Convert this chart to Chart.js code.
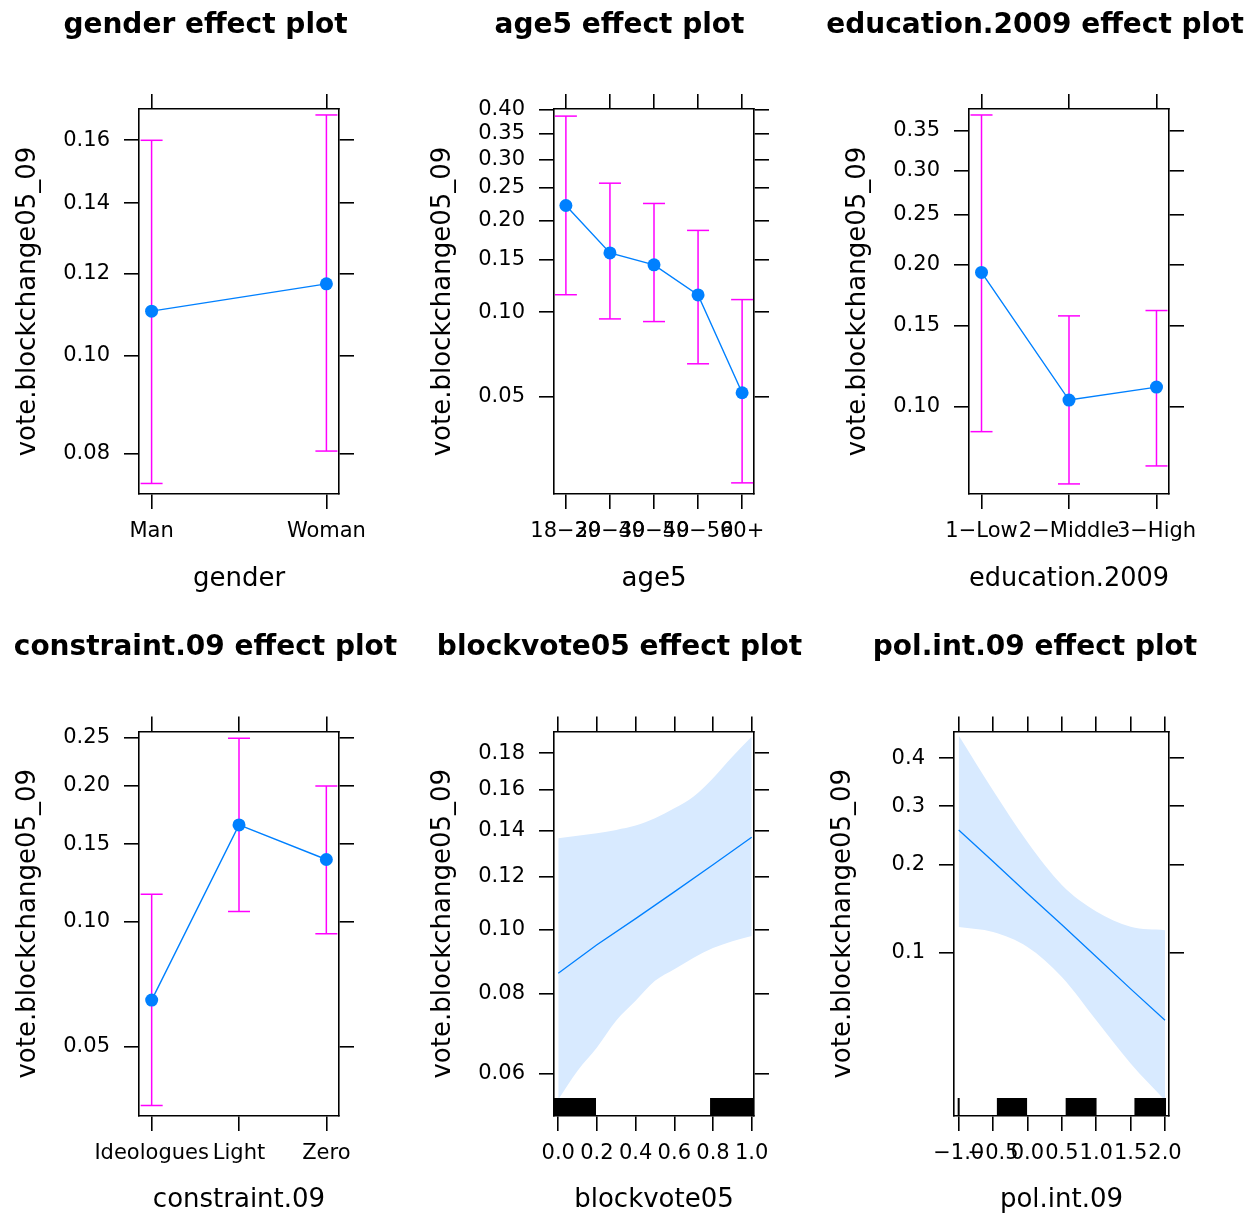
<!DOCTYPE html>
<html>
<head>
<meta charset="utf-8">
<title>Effect plots</title>
<script src="https://cdn.jsdelivr.net/npm/chart.js@4.4.1/dist/chart.umd.min.js"></script>
<style>
  body { margin: 0; background: #fff; }
  #page { position: relative; width: 1259px; height: 1218px; overflow: hidden; background: #fff; }
  #page canvas { position: absolute; }
</style>
</head>
<body>
<div id="page"></div>
<script>
// --- data (probabilities) ---
const genderLevels = ["Man", "Woman"];
const genderFit = [0.1105, 0.1174];
const genderLower = [0.0747, 0.0805];
const genderUpper = [0.1600, 0.1687];
const genderYTicks = [0.08, 0.10, 0.12, 0.14, 0.16];

const age5Levels = ["18−29", "30−39", "40−49", "50−59", "60+"];
const age5Fit = [0.222, 0.158, 0.1445, 0.1146, 0.0517];
const age5Lower = [0.1148, 0.0948, 0.0928, 0.0658, 0.0240];
const age5Upper = [0.386, 0.2579, 0.2251, 0.1863, 0.1105];
const age5YTicks = [0.05, 0.10, 0.15, 0.20, 0.25, 0.30, 0.35, 0.40];

const eduLevels = ["1−Low", "2−Middle", "3−High"];
const eduFit = [0.1933, 0.1036, 0.1107];
const eduLower = [0.0880, 0.0668, 0.0735];
const eduUpper = [0.3707, 0.1575, 0.1616];
const eduYTicks = [0.10, 0.15, 0.20, 0.25, 0.30, 0.35];

const constraintLevels = ["Ideologues", "Light", "Zero"];
const constraintFit = [0.0650, 0.1653, 0.1387];
const constraintLower = [0.0357, 0.1055, 0.0936];
const constraintUpper = [0.1157, 0.2495, 0.2000];
const constraintYTicks = [0.05, 0.10, 0.15, 0.20, 0.25];

const blockvoteX = [0, 0.2, 0.4, 0.6, 0.8, 1.0];
const blockvoteFit = [0.086, 0.095, 0.104, 0.114, 0.125, 0.137];
const blockvoteBandX = [0, 0.1, 0.2, 0.3, 0.4, 0.5, 0.6, 0.7, 0.8, 0.9, 1.0];
const blockvoteLower = [0.0547, 0.0607, 0.0660, 0.0727, 0.0780, 0.0837, 0.0872, 0.0908, 0.0939, 0.0962, 0.0979];
const blockvoteUpper = [0.1366, 0.1377, 0.1388, 0.1404, 0.1424, 0.1459, 0.1507, 0.1566, 0.1662, 0.1780, 0.1895];
const blockvoteRug = [[-0.02, 0.19], [0.79, 1.01]];
const blockvoteXTicks = [0, 0.2, 0.4, 0.6, 0.8, 1.0];
const blockvoteYTicks = [0.06, 0.08, 0.10, 0.12, 0.14, 0.16, 0.18];

const polintX = [-1.0, -0.5, 0, 0.5, 1.0, 1.5, 2.0];
const polintFit = [0.256, 0.205, 0.161, 0.126, 0.097, 0.074, 0.0565];
const polintLower = [0.1236, 0.1187, 0.1051, 0.0819, 0.0565, 0.0387, 0.0279];
const polintUpper = [0.451, 0.331, 0.2355, 0.172, 0.140, 0.124, 0.1206];
const polintRug = [[-1.0, -1.0], [-0.43, -0.02], [0.57, 0.99], [1.57, 2.0]];
const polintXTicks = [-1.0, -0.5, 0, 0.5, 1.0, 1.5, 2.0];
const polintYTicks = [0.1, 0.2, 0.3, 0.4];

const yTitle = "vote.blockchange05_09";

const BLUE = "#0080ff";
const MAGENTA = "#ff00ff";
const BAND = "#d8eaff";

Chart.defaults.font.family = "'DejaVu Sans', sans-serif";
Chart.defaults.color = "#000";

// logit axis, like the effects package uses for binomial models
const logit = p => Math.log(p / (1 - p));
const invLogit = z => 1 / (1 + Math.exp(-z));

class LogitScale extends Chart.Scale {
  determineDataLimits() {
    this.min = this.options.min;
    this.max = this.options.max;
  }
  buildTicks() {
    return [];
  }
  configure() {
    super.configure();
    this._lo = logit(this.min);
    this._hi = logit(this.max);
  }
  getPixelForValue(value) {
    return this.getPixelForDecimal((logit(value) - this._lo) / (this._hi - this._lo));
  }
  getValueForPixel(pixel) {
    return invLogit(this._lo + this.getDecimalForPixel(pixel) * (this._hi - this._lo));
  }
}
LogitScale.id = "logit";
LogitScale.defaults = {};
Chart.register(LogitScale);

function rugPlugin(ranges) {
  return {
    id: "rug",
    afterDatasetsDraw(chart) {
      const { ctx, chartArea, scales } = chart;
      const x = scales.x;
      ctx.save();
      ctx.beginPath();
      ctx.rect(chartArea.left, chartArea.top, chartArea.right - chartArea.left, chartArea.bottom - chartArea.top);
      ctx.clip();
      ctx.fillStyle = "#000";
      ranges.forEach(([a, b]) => {
        const x0 = x.getPixelForValue(a);
        const x1 = x.getPixelForValue(b);
        ctx.fillRect(x0 - 1, chartArea.bottom - 18, x1 - x0 + 2, 18);
      });
      ctx.restore();
    }
  };
}

function factorSets(levels, fit, lower, upper) {
  const sets = [{
    data: fit.map((y, i) => ({ x: i, y })),
    borderColor: BLUE,
    borderWidth: 1.4,
    pointRadius: 6.5,
    pointBackgroundColor: BLUE,
    pointBorderWidth: 0
  }];
  levels.forEach((_, i) => {
    sets.push({
      data: [{ x: i, y: lower[i] }, { x: i, y: upper[i] }],
      borderColor: MAGENTA,
      borderWidth: 1.5,
      pointStyle: "line",
      pointRadius: 11,
      pointBorderColor: MAGENTA,
      pointBorderWidth: 1.5
    });
  });
  return sets;
}

function bandSets(xs, fit, bandXs, lower, upper) {
  return [
    {
      data: xs.map((x, i) => ({ x, y: fit[i] })),
      borderColor: BLUE,
      borderWidth: 1.3,
      pointRadius: 0
    },
    {
      data: bandXs.map((x, i) => ({ x, y: upper[i] })),
      borderColor: "rgba(0,0,0,0)",
      borderWidth: 0,
      pointRadius: 0,
      backgroundColor: BAND,
      fill: "+1",
      cubicInterpolationMode: "monotone"
    },
    {
      data: bandXs.map((x, i) => ({ x, y: lower[i] })),
      borderColor: "rgba(0,0,0,0)",
      borderWidth: 0,
      pointRadius: 0,
      cubicInterpolationMode: "monotone"
    }
  ];
}

const panels = [
  {
    title: "gender effect plot", xTitle: "gender",
    canvas: { left: 0, top: 0, width: 411, height: 605 },
    box: { left: 139, right: 339, top: 109, bottom: 494 },
    titleY: 25.3, xTitleY: 579,
    xMin: -0.072, xMax: 1.072, yMin: 0.0729, yMax: 0.1708,
    xTicks: genderLevels.map((_, i) => i), xLabel: v => genderLevels[v],
    yTicks: genderYTicks, yDigits: 2,
    datasets: factorSets(genderLevels, genderFit, genderLower, genderUpper)
  },
  {
    title: "age5 effect plot", xTitle: "age5",
    canvas: { left: 414, top: 0, width: 411, height: 605 },
    box: { left: 554, right: 754, top: 109, bottom: 494 },
    titleY: 25.3, xTitleY: 579,
    xMin: -0.27, xMax: 4.27, yMin: 0.0218, yMax: 0.401,
    xTicks: age5Levels.map((_, i) => i), xLabel: v => age5Levels[v],
    yTicks: age5YTicks, yDigits: 2,
    datasets: factorSets(age5Levels, age5Fit, age5Lower, age5Upper)
  },
  {
    title: "education.2009 effect plot", xTitle: "education.2009",
    canvas: { left: 811, top: 0, width: 448, height: 605 },
    box: { left: 969, right: 1169, top: 109, bottom: 494 },
    titleY: 25.3, xTitleY: 579,
    xMin: -0.143, xMax: 2.143, yMin: 0.0633, yMax: 0.3787,
    xTicks: eduLevels.map((_, i) => i), xLabel: v => eduLevels[v],
    yTicks: eduYTicks, yDigits: 2,
    datasets: factorSets(eduLevels, eduFit, eduLower, eduUpper)
  },
  {
    title: "constraint.09 effect plot", xTitle: "constraint.09",
    canvas: { left: 0, top: 615, width: 411, height: 603 },
    box: { left: 139, right: 339, top: 731.5, bottom: 1116 },
    titleY: 647.8, xTitleY: 1200,
    xMin: -0.145, xMax: 2.145, yMin: 0.0336, yMax: 0.2571,
    xTicks: constraintLevels.map((_, i) => i), xLabel: v => constraintLevels[v],
    yTicks: constraintYTicks, yDigits: 2,
    datasets: factorSets(constraintLevels, constraintFit, constraintLower, constraintUpper)
  },
  {
    title: "blockvote05 effect plot", xTitle: "blockvote05",
    canvas: { left: 414, top: 615, width: 411, height: 603 },
    box: { left: 554, right: 754, top: 731.5, bottom: 1116 },
    titleY: 647.8, xTitleY: 1200,
    xMin: -0.022, xMax: 1.012, yMin: 0.0515, yMax: 0.1926,
    xTicks: blockvoteXTicks, xLabel: v => v.toFixed(1),
    yTicks: blockvoteYTicks, yDigits: 2,
    datasets: bandSets(blockvoteX, blockvoteFit, blockvoteBandX, blockvoteLower, blockvoteUpper),
    rug: blockvoteRug
  },
  {
    title: "pol.int.09 effect plot", xTitle: "pol.int.09",
    canvas: { left: 811, top: 615, width: 448, height: 603 },
    box: { left: 954, right: 1169, top: 731.5, bottom: 1116 },
    titleY: 647.8, xTitleY: 1200,
    xMin: -1.068, xMax: 2.058, yMin: 0.02424, yMax: 0.4599,
    xTicks: polintXTicks, xLabel: v => (v < 0 ? "−" : "") + Math.abs(v).toFixed(1),
    yTicks: polintYTicks, yDigits: 1,
    datasets: bandSets(polintX, polintFit, polintX, polintLower, polintUpper),
    rug: polintRug
  }
];

const page = document.getElementById("page");
const TICK = 15;

panels.forEach(p => {
  const c = p.canvas, b = p.box;
  const el = document.createElement("canvas");
  el.width = c.width;
  el.height = c.height;
  el.style.left = c.left + "px";
  el.style.top = c.top + "px";
  page.appendChild(el);

  const grid = { display: true, drawOnChartArea: false, drawTicks: true, tickLength: TICK, color: "#000", lineWidth: 1.6 };
  const border = { display: true, color: "#000", width: 1.6 };
  const setX = s => { s.ticks = p.xTicks.map(v => ({ value: v })); };
  const setY = s => { s.ticks = p.yTicks.map(v => ({ value: v })); };

  // title block = lineHeight(33.6) + padding; text middle lands on titleY
  const titleTop = p.titleY - c.top - 16.8;
  const titleBottom = (b.top - c.top - 16) - 33.6 - titleTop;

  p.datasets.forEach(d => { d.xAxisID = "x"; d.yAxisID = "y"; });

  new Chart(el, {
    type: "line",
    data: { datasets: p.datasets },
    options: {
      responsive: false,
      animation: false,
      devicePixelRatio: 1,
      events: [],
      layout: { padding: 0 },
      plugins: {
        legend: { display: false },
        tooltip: { enabled: false },
        title: {
          display: true,
          text: p.title,
          color: "#000",
          font: { size: 28, weight: "bold" },
          padding: { top: titleTop, bottom: titleBottom }
        }
      },
      scales: {
        x: {
          type: "linear", position: "bottom", bounds: "data",
          min: p.xMin, max: p.xMax, grid, border,
          ticks: { autoSkip: false, maxRotation: 0, minRotation: 0, padding: 10, font: { size: 21 }, callback: v => p.xLabel(v) },
          afterBuildTicks: setX,
          title: { display: true, text: p.xTitle, font: { size: 26 }, padding: { top: 0, bottom: (c.top + c.height - 15.6) - p.xTitleY } },
          afterFit: s => { s.height = c.top + c.height - b.bottom; }
        },
        x2: {
          type: "linear", position: "top", bounds: "data",
          min: p.xMin, max: p.xMax, grid, border,
          ticks: { display: false },
          afterBuildTicks: setX,
          afterFit: s => { s.height = 16; }
        },
        y: {
          type: "logit", position: "left",
          min: p.yMin, max: p.yMax, grid, border,
          ticks: { autoSkip: false, padding: 14, font: { size: 21 }, callback: v => v.toFixed(p.yDigits) },
          afterBuildTicks: setY,
          title: { display: true, text: yTitle, font: { size: 26 }, padding: { top: b.left - c.left - 126.1, bottom: 0 } },
          afterFit: s => { s.width = b.left - c.left; }
        },
        y2: {
          type: "logit", position: "right",
          min: p.yMin, max: p.yMax, grid, border,
          ticks: { display: false },
          afterBuildTicks: setY,
          afterFit: s => { s.width = c.left + c.width - b.right; }
        }
      }
    },
    plugins: p.rug ? [rugPlugin(p.rug)] : []
  });
});
</script>
</body>
</html>
